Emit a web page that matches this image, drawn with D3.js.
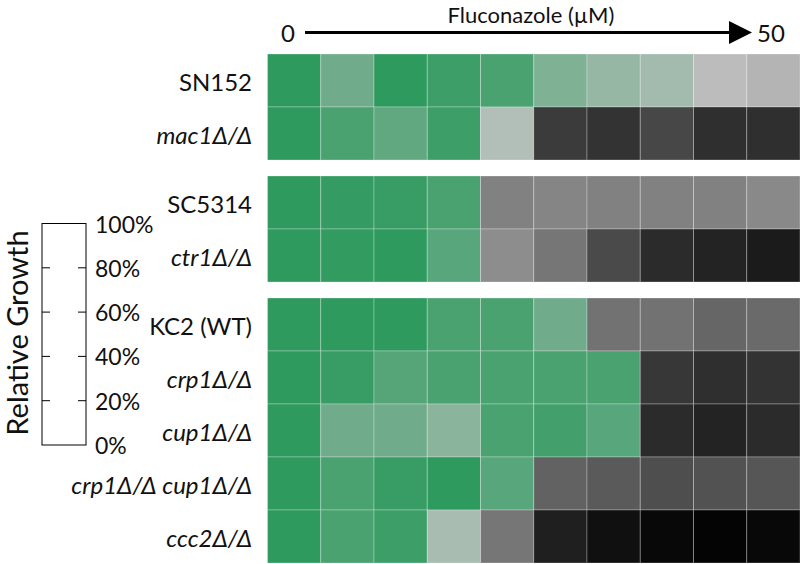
<!DOCTYPE html>
<html><head><meta charset="utf-8">
<script src="https://cdn.jsdelivr.net/npm/d3@7"></script>
<style>body{margin:0;background:#fff}svg{display:block}text{font-family:Lato,"Noto Sans",sans-serif;fill:#111}</style>
</head><body><svg id="c" width="800" height="564"></svg>
<script>
// Concentration steps (0 → 50 µM), 10 columns
const concentrations = ["c1","c2","c3","c4","c5","c6","c7","c8","c9","c10"];
const strains = ["SN152","mac1Δ/Δ","SC5314","ctr1Δ/Δ","KC2 (WT)","crp1Δ/Δ","cup1Δ/Δ","crp1Δ/Δ cup1Δ/Δ","ccc2Δ/Δ"];
const italicStrain = [false,true,false,true,false,true,true,true,true];
const groupOf = [0,0,1,1,2,2,2,2,2];
// relative growth (%) per strain
const SN152   = [100, 78, 100, 95, 91, 73, 65, 61, 48, 46];
const mac1    = [100, 91, 83, 95, 56, 15, 13, 18, 12, 12];
const SC5314  = [100, 98, 97, 91, 33, 34, 33, 33, 33, 35];
const ctr1    = [100, 99, 100, 86, 36, 30, 19, 11, 9, 7];
const KC2     = [100, 100, 100, 91, 91, 78, 29, 29, 26, 27];
const crp1    = [100, 97, 87, 91, 91, 91, 91, 14, 12, 13];
const cup1    = [100, 78, 78, 69, 91, 93, 86, 11, 9, 11];
const crp1cup1= [100, 91, 97, 100, 86, 25, 23, 20, 21, 22];
const ccc2    = [100, 91, 95, 59, 30, 8, 4, 2, 1, 2];
const growth = [SN152, mac1, SC5314, ctr1, KC2, crp1, cup1, crp1cup1, ccc2];
const legendTicks = [0,20,40,60,80,100];

const svg = d3.select("#c");
const x = d3.scaleBand().domain(concentrations).range([267.5, 800]).paddingInner(0);
const rowH = 53, gap = 16, top0 = 54;
const y = i => top0 + i*rowH + groupOf[i]*gap;
const color = d3.scaleLinear().domain([0, 50, 100]).range(["#000000","#c4c4c4","#2e9a5e"]).clamp(true);

// cells
strains.forEach((s, i) => {
  svg.append("g").selectAll("rect").data(growth[i]).join("rect")
    .attr("x", (d, j) => x(concentrations[j]))
    .attr("y", y(i))
    .attr("width", x.bandwidth())
    .attr("height", rowH)
    .attr("fill", d => color(d))
    .attr("stroke", "rgba(255,255,255,0.28)")
    .attr("stroke-width", 1);
  svg.append("text")
    .attr("x", 252).attr("y", y(i) + rowH/2 + 10)
    .attr("text-anchor", "end").attr("font-size", 24)
    .style("font-style", italicStrain[i] ? "italic" : "normal")
    .text(s);
});

// header
svg.append("text").attr("x", 531).attr("y", 23).attr("text-anchor","middle").attr("font-size", 22).text("Fluconazole (µM)");
svg.append("text").attr("x", 288).attr("y", 42).attr("text-anchor","middle").attr("font-size", 24).text("0");
svg.append("text").attr("x", 771).attr("y", 42).attr("text-anchor","middle").attr("font-size", 24).text("50");
svg.append("line").attr("x1", 305).attr("x2", 735).attr("y1", 32.5).attr("y2", 32.5).attr("stroke","#000").attr("stroke-width", 3);
svg.append("path").attr("d", "M729,21 L752,32.5 L729,44 Z").attr("fill","#000");

// legend
const ly = d3.scaleLinear().domain([0,100]).range([445, 223.5]);
const lg = svg.append("g");
lg.append("rect").attr("x", 42).attr("y", ly(100)).attr("width", 44).attr("height", ly(0)-ly(100))
  .attr("fill","#fff").attr("stroke","#000").attr("stroke-width",1);
lg.selectAll("line.l").data(legendTicks.slice(1,5)).join("line")
  .attr("x1",42).attr("x2",50).attr("y1",d=>ly(d)).attr("y2",d=>ly(d)).attr("stroke","#000");
lg.selectAll("line.r").data(legendTicks.slice(1,5)).join("line")
  .attr("x1",78).attr("x2",86).attr("y1",d=>ly(d)).attr("y2",d=>ly(d)).attr("stroke","#000");
lg.selectAll("text").data(legendTicks).join("text")
  .attr("x", 95).attr("y", d => ly(d) + 9).attr("font-size", 23).text(d => d + "%");
svg.append("text").attr("transform","translate(28,333) rotate(-90)").attr("text-anchor","middle")
  .attr("font-size", 29).text("Relative Growth");
</script></body></html>
